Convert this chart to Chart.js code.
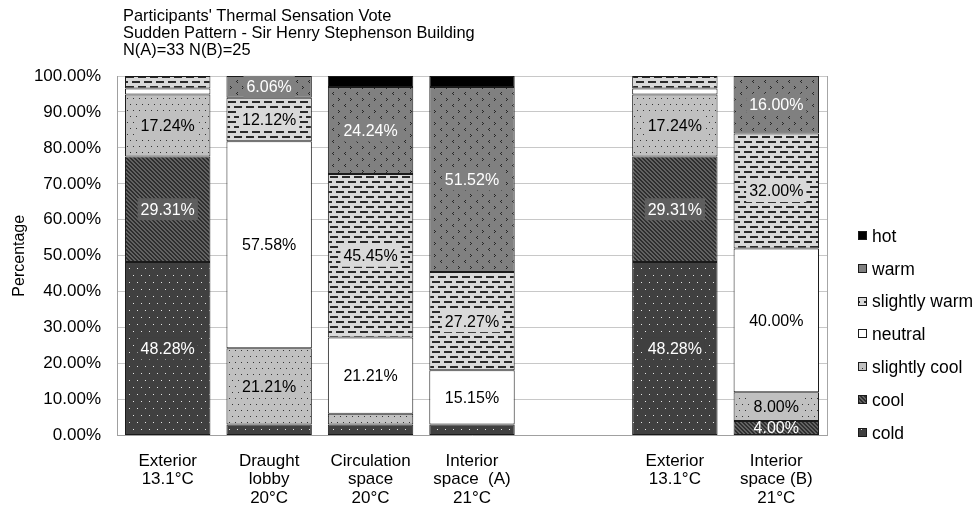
<!DOCTYPE html>
<html><head><meta charset="utf-8">
<script src="https://cdn.jsdelivr.net/npm/chart.js@4/dist/chart.umd.min.js"></script>
<style>html,body{margin:0;padding:0;background:#fff;}#wrap{width:980px;height:511px;}</style>
</head><body><div id="wrap"><canvas id="c" width="980" height="511"></canvas></div>
<script>
const titleLines = ["Participants' Thermal Sensation Vote", "Sudden Pattern - Sir Henry Stephenson Building", "N(A)=33 N(B)=25"];
const categories = [["Exterior","13.1°C"],["Draught","lobby","20°C"],["Circulation","space","20°C"],["Interior","space  (A)","21°C"],"",["Exterior","13.1°C"],["Interior","space (B)","21°C"]];
const seriesNames = ["cold","cool","slightly cool","neutral","slightly warm","warm","hot"];
const cold         = [48.28, 3.03, 3.03, 3.03, null, 48.28, null];
const cool         = [29.31, null, null, null, null, 29.31, 4.00];
const slightlyCool = [17.24, 21.21, 3.03, null, null, 17.24, 8.00];
const neutral      = [1.72, 57.58, 21.21, 15.15, null, 1.72, 40.00];
const slightlyWarm = [3.45, 12.12, 45.45, 27.27, null, 3.45, 32.00];
const warm         = [null, 6.06, 24.24, 51.52, null, null, 16.00];
const hot          = [null, null, 3.03, 3.03, null, null, null];
const yAxisTitle = "Percentage";

const FONT = '"Liberation Sans", Arial, sans-serif';
const canvas = document.getElementById('c');
const mainCtx = canvas.getContext('2d');

function makePattern(w, h, bg, fg, rects) {
  const c = document.createElement('canvas'); c.width = w; c.height = h;
  const g = c.getContext('2d');
  g.fillStyle = bg; g.fillRect(0, 0, w, h);
  g.fillStyle = fg;
  rects.forEach(r => g.fillRect(r[0], r[1], r[2], r[3]));
  return mainCtx.createPattern(c, 'repeat');
}
const pCold = makePattern(8, 14, '#404040', '#e6e6e6', [[1,2,1,1],[5,9,1,1]]);
const pCool = makePattern(4, 4, '#626262', '#2e2e2e', [[0,0,2,1],[1,1,2,1],[2,2,2,1],[3,3,1,1],[0,3,1,1]]);
const pSCool = makePattern(6, 12, '#c0c0c0', '#333333', [[1,2,1,1],[4,8,1,1]]);
const pSWarm = makePattern(12, 10, '#d9d9d9', '#2a2a2a', [[0,1,8,2],[6,6,6,2],[0,6,2,2]]);
const pWarm = makePattern(12, 12, '#808080', '#262626', [[2,2,1,1],[3,3,1,1],[2,4,1,1],[9,8,1,1],[8,9,1,1],[9,10,1,1]]);

const styles = [
  {fill: pCold, base: '#404040', text: '#ffffff'},
  {fill: pCool, base: '#5e5e5e', text: '#ffffff'},
  {fill: pSCool, base: '#c0c0c0', text: '#000000'},
  {fill: '#ffffff', base: '#ffffff', text: '#000000'},
  {fill: pSWarm, base: '#d9d9d9', text: '#000000'},
  {fill: pWarm, base: '#808080', text: '#ffffff'},
  {fill: '#000000', base: '#000000', text: '#ffffff'}
];
const seriesData = [cold, cool, slightlyCool, neutral, slightlyWarm, warm, hot];

const datasets = seriesNames.map((name, i) => ({
  label: name,
  data: seriesData[i],
  backgroundColor: styles[i].fill,
  borderColor: '#1a1a1a',
  borderWidth: 1,
  borderSkipped: false,
  barPercentage: 1,
  categoryPercentage: 0.842,
  labelBg: styles[i].base,
  labelColor: styles[i].text
}));

const extrasPlugin = {
  id: 'extras',
  afterDatasetsDraw(chart) {
    const ctx = chart.ctx;
    ctx.save();
    ctx.font = '16px ' + FONT;
    ctx.textAlign = 'center';
    ctx.textBaseline = 'middle';
    chart.data.datasets.forEach((ds, di) => {
      const meta = chart.getDatasetMeta(di);
      meta.data.forEach((el, i) => {
        const v = ds.data[i];
        if (v == null || v < 4) return;
        const x = el.x, y = (el.y + el.base) / 2;
        const txt = v.toFixed(2) + '%';
        const h = Math.abs(el.base - el.y);
        if (h > 20) {
          const w = ctx.measureText(txt).width + 6;
          ctx.fillStyle = ds.labelBg;
          ctx.fillRect(x - w / 2, y - 11, w, 22);
        }
        ctx.fillStyle = ds.labelColor;
        ctx.fillText(txt, x, y + 1);
      });
    });
    ctx.restore();
  },
  afterDraw(chart) {
    const ctx = chart.ctx;
    const a = chart.chartArea;
    ctx.save();
    ctx.strokeStyle = '#a6a6a6'; ctx.lineWidth = 1;
    ctx.beginPath(); ctx.moveTo(Math.round(a.right) + 0.5, a.top); ctx.lineTo(Math.round(a.right) + 0.5, a.bottom); ctx.stroke();
    ctx.fillStyle = '#000';
    ctx.font = '16.4px ' + FONT;
    ctx.textAlign = 'left'; ctx.textBaseline = 'alphabetic';
    titleLines.forEach((t, i) => ctx.fillText(t, 123, 21 + i * 17));
    ctx.font = '17.5px ' + FONT;
    const n = chart.data.datasets.length;
    for (let k = 0; k < n; k++) {
      const di = n - 1 - k;
      const ds = chart.data.datasets[di];
      const cy = 236 + k * 32.8;
      ctx.fillStyle = ds.backgroundColor;
      ctx.fillRect(858, Math.round(cy - 5), 9, 9);
      ctx.strokeStyle = '#1a1a1a';
      ctx.strokeRect(858.5, Math.round(cy - 5) + 0.5, 8, 8);
      ctx.fillStyle = '#000';
      ctx.textBaseline = 'middle';
      ctx.fillText(ds.label, 872, cy + 1);
    }
    ctx.restore();
  }
};

new Chart(canvas, {
  type: 'bar',
  data: { labels: categories, datasets },
  plugins: [extrasPlugin],
  options: {
    responsive: false,
    animation: false,
    layout: { padding: { top: 76, right: 153, left: 0, bottom: 0 } },
    plugins: { legend: { display: false }, tooltip: { enabled: false }, title: { display: false } },
    scales: {
      x: {
        stacked: true,
        grid: { display: false, drawTicks: false },
        border: { display: true, color: '#a0a0a0' },
        ticks: { color: '#000', font: { family: FONT, size: 17, lineHeight: 1.1 }, padding: 16, maxRotation: 0, autoSkip: false },
        afterFit(s) { s.height = 75.5; }
      },
      y: {
        stacked: true, min: 0, max: 100,
        grid: { color: '#c8c8c8', drawTicks: false },
        border: { display: true, color: '#a0a0a0' },
        ticks: { stepSize: 10, color: '#000', font: { family: FONT, size: 17 }, padding: 16, callback: v => v.toFixed(2) + '%' },
        title: { display: true, text: yAxisTitle, color: '#000', font: { family: FONT, size: 16 }, padding: { top: 10, bottom: 0 } },
        afterFit(s) { s.width = 117; }
      }
    }
  }
});
</script></body></html>
